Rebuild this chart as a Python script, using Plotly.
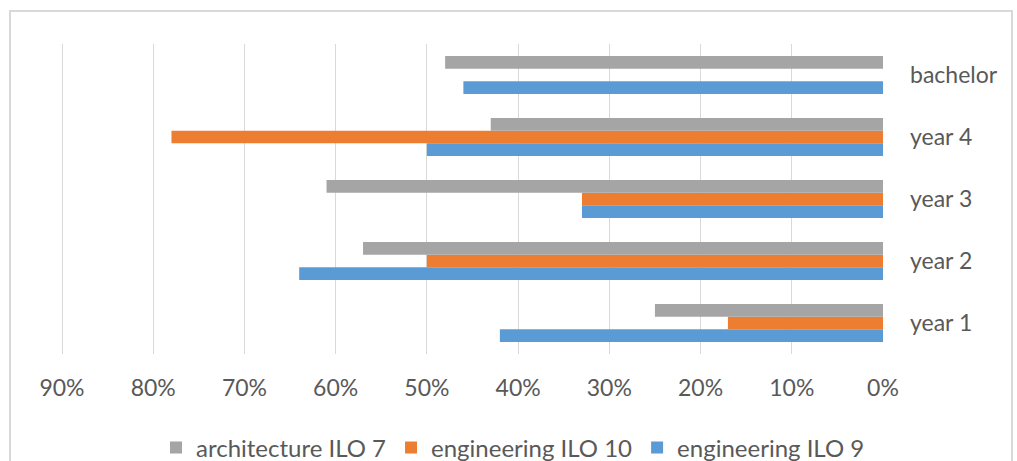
import plotly.graph_objects as go

categories = ["year 1", "year 2", "year 3", "year 4", "bachelor"]
eng_ilo9 = [0.42, 0.64, 0.33, 0.50, 0.46]
eng_ilo10 = [0.17, 0.50, 0.33, 0.78, None]
arch_ilo7 = [0.25, 0.57, 0.61, 0.43, 0.48]
tick_vals = [0, 0.1, 0.2, 0.3, 0.4, 0.5, 0.6, 0.7, 0.8, 0.9]
tick_text = ["0%", "10%", "20%", "30%", "40%", "50%", "60%", "70%", "80%", "90%"]

FONT = "Lato"
TXT = "#595959"

fig = go.Figure()
fig.add_trace(go.Bar(y=categories, x=eng_ilo9, orientation="h", name="engineering ILO 9",
                     marker=dict(color="#5B9BD5", line=dict(width=0))))
fig.add_trace(go.Bar(y=categories, x=eng_ilo10, orientation="h", name="engineering ILO 10",
                     marker=dict(color="#ED7D31", line=dict(width=0))))
fig.add_trace(go.Bar(y=categories, x=arch_ilo7, orientation="h", name="architecture ILO 7",
                     marker=dict(color="#A5A5A5", line=dict(width=0))))

L, R, T, B = 57, 134, 44, 107
W, H = 1017, 461
pw, ph = W - L - R, H - T - B

fig.update_layout(
    width=W, height=H,
    margin=dict(l=L, r=R, t=T, b=B, autoexpand=False),
    paper_bgcolor="white", plot_bgcolor="white",
    barmode="group", bargap=0.385, bargroupgap=0,
    font=dict(family=FONT, color=TXT, size=23),
    showlegend=True,
    legend=dict(orientation="h", traceorder="reversed", x=(513 - L) / pw, xanchor="center",
                y=(354 - 448) / ph, yanchor="middle", font=dict(size=24, color=TXT),
                itemwidth=30, bgcolor="rgba(0,0,0,0)"),
    xaxis=dict(range=[0.90548, 0], tickvals=tick_vals, ticktext=tick_text,
               showgrid=True, gridcolor="#D9D9D9", gridwidth=1, zeroline=False,
               showline=False, ticks="", ticklabelstandoff=18, automargin=False,
               tickfont=dict(size=23, color=TXT)),
    yaxis=dict(side="right", showgrid=False, zeroline=False, showline=False,
               ticks="", ticklabelstandoff=26, automargin=False,
               tickfont=dict(size=23, color=TXT),
               categoryorder="array", categoryarray=categories),
    shapes=[dict(type="rect", xref="paper", yref="paper",
                 x0=(10 - L) / pw, x1=(1012 - L) / pw,
                 y0=(354 - 480) / ph, y1=(354 - 11) / ph,
                 line=dict(color="#D9D9D9", width=2), fillcolor="rgba(0,0,0,0)", layer="below")],
)

fig.write_html("out.html")
